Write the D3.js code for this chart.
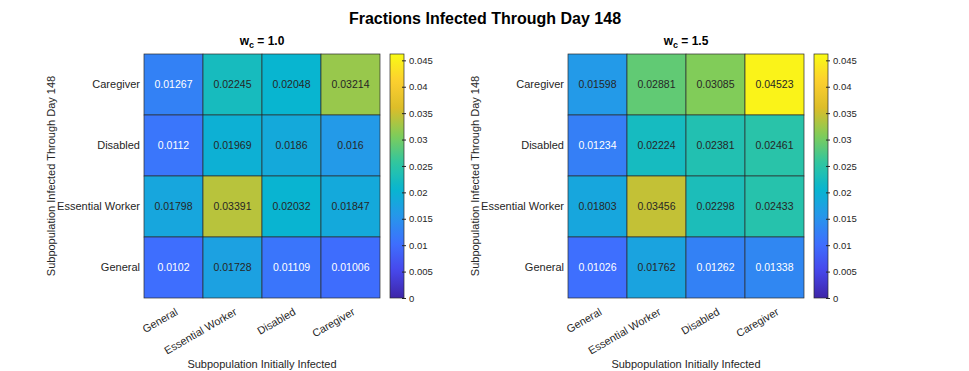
<!DOCTYPE html>
<html>
<head>
<meta charset="utf-8">
<script src="https://cdn.jsdelivr.net/npm/d3@7"></script>
<style>
	body { margin: 0; background: white; }
	text { font-family: "Liberation Sans", Arial, sans-serif; }
</style>
</head>
<body>
<div id="figura"></div>
<script>
// subpopulations, in column order (initially infected)
var grups = ['General', 'Essential Worker', 'Disabled', 'Caregiver'];
// rows from top to bottom (infected through day 148)
var files = ['Caregiver', 'Disabled', 'Essential Worker', 'General'];

// w_c = 1.0, one array per row, in grups order
var wc10 = [
	[0.01267, 0.02245, 0.02048, 0.03214],
	[0.0112, 0.01969, 0.0186, 0.016],
	[0.01798, 0.03391, 0.02032, 0.01847],
	[0.0102, 0.01728, 0.01109, 0.01006]
];
// w_c = 1.5
var wc15 = [
	[0.01598, 0.02881, 0.03085, 0.04523],
	[0.01234, 0.02224, 0.02381, 0.02461],
	[0.01803, 0.03456, 0.02298, 0.02433],
	[0.01026, 0.01762, 0.01262, 0.01338]
];

var tiquesBarra = [0, 0.005, 0.01, 0.015, 0.02, 0.025, 0.03, 0.035, 0.04, 0.045];
var límit = [0, 0.0462];

// parula(10)
var parula = ['#3e26a8', '#4747eb', '#3e6ffe', '#2796eb', '#08b5d0', '#31c69f', '#80cc59', '#dcbd29', '#fccf30', '#f9fb14'];

var Amplada = 969, Alçada = 371;
var gris = '#262626';

var plànol = d3.select('#figura')
	.append('svg')
		.attr('width', Amplada)
		.attr('height', Alçada);

plànol.append('rect')
	.attr('width', '100%')
	.attr('height', '100%')
	.attr('fill', 'white');

plànol.append('text')
	.attr('x', 485)
	.attr('y', 24)
	.attr('text-anchor', 'middle')
	.attr('font-size', 16)
	.attr('font-weight', 'bold')
	.attr('fill', 'black')
	.text('Fractions Infected Through Day 148');

var color = d3.scaleSequential(d3.piecewise(d3.interpolateRgb, parula))
	.domain(límit);

function colorText(v) {
	let c = d3.rgb(color(v));
	let lum = (0.299*c.r + 0.587*c.g + 0.114*c.b) / 255;
	return lum > 0.49 ? gris : 'white';
}

function mapa(esq, dades, pes, idGrad) {
	const dalt = 54, baix = 298;
	const amp = 236;
	const x = d3.scaleBand().domain(grups).range([esq, esq + amp]);
	const y = d3.scaleBand().domain(files).range([dalt, baix]);

	const cel·les = [];
	dades.forEach((fila, i) => fila.forEach((v, j) => cel·les.push({fila: files[i], col: grups[j], v: v})));

	const g = plànol.append('g');

	g.selectAll('rect.cel')
		.data(cel·les)
		.enter()
		.append('rect')
			.attr('class', 'cel')
			.attr('x', d => x(d.col))
			.attr('y', d => y(d.fila))
			.attr('width', x.bandwidth())
			.attr('height', y.bandwidth())
			.attr('fill', d => color(d.v))
			.attr('stroke', '#2b2b2b')
			.attr('stroke-width', 0.7);

	g.selectAll('text.val')
		.data(cel·les)
		.enter()
		.append('text')
			.attr('class', 'val')
			.attr('x', d => x(d.col) + x.bandwidth()/2)
			.attr('y', d => y(d.fila) + y.bandwidth()/2)
			.attr('dy', '0.35em')
			.attr('text-anchor', 'middle')
			.attr('font-size', 10.5)
			.attr('fill', d => colorText(d.v))
			.text(d => String(d.v));

	// eix Y
	const eixY = g.append('g')
		.attr('transform', `translate(${esq},0)`)
		.call(d3.axisLeft(y).tickSize(0).tickPadding(4));
	eixY.select('.domain').remove();
	eixY.selectAll('text')
		.attr('font-size', 11)
		.attr('fill', gris)
		.attr('font-family', '"Liberation Sans", Arial, sans-serif');

	// eix X, etiquetes girades
	const eixX = g.append('g')
		.attr('transform', `translate(0,${baix})`)
		.call(d3.axisBottom(x).tickSize(0).tickPadding(0));
	eixX.select('.domain').remove();
	eixX.selectAll('text')
		.attr('font-size', 10.8)
		.attr('fill', gris)
		.attr('font-family', '"Liberation Sans", Arial, sans-serif')
		.attr('text-anchor', 'end')
		.attr('dy', null)
		.attr('y', 0)
		.attr('transform', 'translate(5,16) rotate(-30)');

	const mig = esq + amp/2;
	g.append('text')
		.attr('x', mig)
		.attr('y', 368)
		.attr('text-anchor', 'middle')
		.attr('font-size', 11)
		.attr('fill', gris)
		.text('Subpopulation Initially Infected');

	g.append('text')
		.attr('transform', `translate(${esq - 89},${(dalt + baix)/2}) rotate(-90)`)
		.attr('text-anchor', 'middle')
		.attr('font-size', 11)
		.attr('fill', gris)
		.text('Subpopulation Infected Through Day 148');

	// subtítol w_c
	const sub = g.append('text')
		.attr('x', mig)
		.attr('y', 45)
		.attr('text-anchor', 'middle')
		.attr('font-size', 12)
		.attr('font-weight', 'bold')
		.attr('fill', 'black');
	sub.append('tspan').text('w');
	sub.append('tspan').attr('font-size', 9).attr('dy', 3).text('c');
	sub.append('tspan').attr('dy', -3).text(' = ' + pes);

	// barra de color
	const bx = esq + amp + 10, bw = 14;
	const yb = d3.scaleLinear().domain(límit).range([baix, dalt]);
	const grad = plànol.append('defs')
		.append('linearGradient')
			.attr('id', idGrad)
			.attr('x1', 0).attr('y1', 1)
			.attr('x2', 0).attr('y2', 0);
	grad.selectAll('stop')
		.data(d3.range(0, 1.0001, 0.02))
		.enter()
		.append('stop')
			.attr('offset', d => d)
			.attr('stop-color', d => color(límit[0] + d*(límit[1]-límit[0])));
	g.append('rect')
		.attr('x', bx)
		.attr('y', dalt)
		.attr('width', bw)
		.attr('height', baix - dalt)
		.attr('fill', `url(#${idGrad})`)
		.attr('stroke', '#2b2b2b')
		.attr('stroke-width', 0.7);
	const eixB = g.append('g')
		.attr('transform', `translate(${bx + bw},0)`)
		.call(d3.axisRight(yb).tickValues(tiquesBarra).tickSize(2).tickPadding(3)
			.tickFormat(d => String(+d.toFixed(3))));
	eixB.select('.domain').remove();
	eixB.selectAll('line').attr('stroke', gris).attr('x1', -2);
	eixB.selectAll('text')
		.attr('font-size', 9.5)
		.attr('fill', gris)
		.attr('font-family', '"Liberation Sans", Arial, sans-serif');
}

mapa(144, wc10, '1.0', 'grad1');
mapa(568, wc15, '1.5', 'grad2');
</script>
</body>
</html>
